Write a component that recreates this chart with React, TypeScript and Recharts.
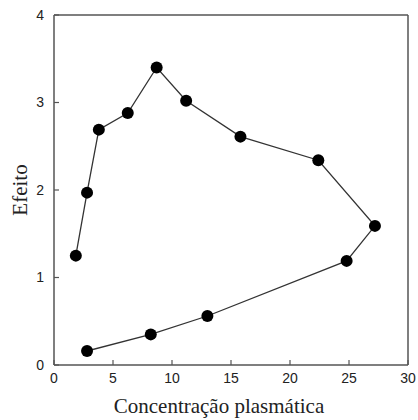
import React from 'react';
import { LineChart, Line, XAxis, YAxis, ReferenceLine } from 'recharts';

const concentracao = [2.8, 8.2, 13.0, 24.8, 27.2, 22.4, 15.8, 11.2, 8.7, 6.25, 3.8, 2.8, 1.85];
const efeito = [0.16, 0.35, 0.56, 1.19, 1.59, 2.34, 2.61, 3.02, 3.40, 2.88, 2.69, 1.97, 1.25];
const xTicks = [0, 5, 10, 15, 20, 25, 30];
const yTicks = [0, 1, 2, 3, 4];

const data = concentracao.map((x, i) => ({ x, y: efeito[i] }));

const tickStyle = { fontFamily: 'Liberation Sans, Arial, sans-serif', fontSize: 14, fill: '#222' };
const labelFont = 'Liberation Serif, Times New Roman, serif';

const YLabel = (props: any) => {
  const vb = props.viewBox || { x: 0, y: 0, width: 0, height: 0 };
  const cx = vb.x + 20;
  const cy = vb.y + vb.height / 2;
  return (
    <text x={cx} y={cy} transform={`rotate(-90 ${cx} ${cy})`} textAnchor="middle" dominantBaseline="central"
      fontFamily={labelFont} fontSize={21} fill="#222">Efeito</text>
  );
};

const XLabel = (props: any) => {
  const vb = props.viewBox || { x: 0, y: 0, width: 0, height: 0 };
  const cx = vb.x + vb.width / 2 - 12;
  return (
    <text x={cx} y={413} textAnchor="middle" fontFamily={labelFont} fontSize={21} fill="#222">Concentração plasmática</text>
  );
};

export default function App() {
  return (
    <div style={{ position: 'absolute', left: 0, top: 0, background: '#fff' }}>
      <LineChart width={418} height={420} data={data} margin={{ top: 15, right: 10, bottom: 0, left: 0 }}>
        <XAxis dataKey="x" type="number" domain={[0, 30]} ticks={xTicks} height={55}
          tick={tickStyle} tickSize={-5} tickMargin={13} axisLine={{ stroke: '#555', strokeWidth: 1.5 }}
          tickLine={{ stroke: '#555', strokeWidth: 1.2 }} label={<XLabel />} />
        <YAxis type="number" domain={[0, 4]} ticks={yTicks} width={54}
          tick={tickStyle} tickSize={-5} tickMargin={15} axisLine={{ stroke: '#555', strokeWidth: 1.5 }}
          tickLine={{ stroke: '#555', strokeWidth: 1.2 }} label={<YLabel />} />
        <ReferenceLine y={4} stroke="#555" strokeWidth={1.5} />
        <ReferenceLine x={30} stroke="#555" strokeWidth={1.5} />
        <Line dataKey="y" type="linear" stroke="#333" strokeWidth={1.3}
          dot={{ r: 6, fill: '#000', stroke: '#000', strokeWidth: 0 }} activeDot={false}
          isAnimationActive={false} />
      </LineChart>
    </div>
  );
}
